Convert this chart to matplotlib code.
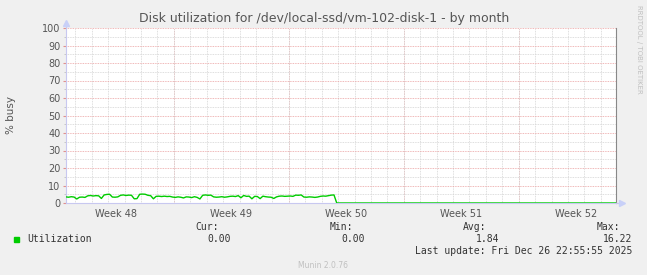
import matplotlib
matplotlib.use("Agg")
import matplotlib.pyplot as plt
import matplotlib.dates as mdates
from matplotlib.patches import Rectangle
import pandas as pd
import numpy as np

title = "Disk utilization for /dev/local-ssd/vm-102-disk-1 - by month"
ylabel = "% busy"
series_name = "Utilization"

# 4-hourly averages (one row per day), from Nov 24 10:00
util = [
    3.5, 3.3, 3.6, 3.4, 2.3, 3.3,
    3.4, 3.2, 4.1, 4.3, 4.0, 4.2,
    4.1, 2.6, 4.6, 4.9, 5.0, 3.4,
    3.3, 3.5, 4.4, 4.6, 4.3, 4.5,
    4.4, 2.4, 2.5, 5.0, 5.1, 5.0,
    4.4, 4.2, 2.4, 3.8, 3.9, 3.7,
    3.9, 3.7, 3.8, 3.4, 3.2, 3.5,
    3.3, 2.9, 3.5, 3.4, 3.1, 3.6,
    3.2, 2.3, 4.4, 4.6, 4.4, 4.5,
    3.5, 3.3, 3.4, 3.6, 3.3, 3.5,
    3.8, 3.9, 3.7, 4.2, 3.0, 4.3,
    3.8, 3.9, 2.4, 3.8, 3.7, 2.5,
    3.9, 3.6, 3.4, 3.3, 2.6, 3.5,
    3.9, 4.0, 3.8, 3.9, 4.0, 3.8,
    4.5, 4.4, 4.6, 3.4, 3.3, 3.5,
    3.4, 3.2, 3.4, 3.8, 4.0, 3.9,
    4.2, 4.5, 4.6,
]
data_start = "2025-11-24 10:00"
view_start = "2025-11-24 10:15"
view_end = "2025-12-27 21:30"

stat_labels = ["Cur:", "Min:", "Avg:", "Max:"]
stat_values = ["0.00", "0.00", "1.84", "16.22"]
last_update = "Last update: Fri Dec 26 22:55:55 2025"
footer = "Munin 2.0.76"
side_text = "RRDTOOL / TOBI OETIKER"

# after the data stops the graph sits flat at zero until the end
n_total = int((pd.Timestamp(view_end) - pd.Timestamp(data_start)) / pd.Timedelta("4h")) + 2
values = np.array(util + [0.0] * (n_total - len(util)))
times = pd.date_range(data_start, periods=n_total, freq="4h")

W, H = 647, 275
def fx(px):
    return px / W
def fy(py):
    return 1 - py / H

fig = plt.figure(figsize=(W / 100, H / 100), dpi=100)
fig.patch.set_facecolor("#f0f0f0")

ax = fig.add_axes([fx(66), fy(203), (615.5 - 66) / W, (203 - 28) / H])
ax.set_facecolor("white")
ax.set_xlim(pd.Timestamp(view_start), pd.Timestamp(view_end))
ax.set_ylim(0, 100)

# grid: minor gray every 5 / every day, major red every 10 / every week
ax.set_yticks(np.arange(0, 101, 10))
ax.set_yticks(np.arange(0, 101, 5), minor=True)
ax.xaxis.set_minor_locator(mdates.DayLocator())
ax.xaxis.set_major_locator(mdates.RRuleLocator(
    mdates.rrulewrapper(mdates.WEEKLY, byweekday=mdates.TH, byhour=12)))
ax.xaxis.set_major_formatter(mdates.DateFormatter("Week %V"))

ax.grid(which="minor", color="#d4d4d4", lw=0.6, ls=(0, (1, 1)))
ax.grid(which="major", axis="y", color="#eaa0a0", lw=0.6, ls=(0, (1, 1)))
for monday in pd.date_range(view_start, view_end, freq="W-MON", normalize=True):
    ax.axvline(monday, color="#eaa0a0", lw=0.6, ls=(0, (1, 1)), zorder=1)

ax.tick_params(axis="y", which="major", length=2, color="#e09090",
               labelsize=7, labelcolor="#555555", pad=2)
ax.tick_params(axis="y", which="minor", length=1.5, color="#c0c0c0")
ax.tick_params(axis="x", which="both", length=0, labelsize=7,
               labelcolor="#555555", pad=4)

ax.plot(times, values, color="#00cc00", lw=1, zorder=3)

ax.spines["top"].set_visible(False)
ax.spines["right"].set_color("#888888")
ax.spines["right"].set_linewidth(0.8)
ax.spines["left"].set_color("#c8c8f0")
ax.spines["bottom"].set_color("#c8c8f0")
ax.plot([1.0, 1.011], [0, 0], transform=ax.transAxes, color="#c8c8f0",
        lw=0.8, clip_on=False)
ax.plot([0, 0], [1.0, 1.025], transform=ax.transAxes, color="#c8c8f0",
        lw=0.8, clip_on=False)
ax.plot([1.011], [0], transform=ax.transAxes, marker=">", color="#c8d0f8",
        ms=4, clip_on=False)
ax.plot([0], [1.03], transform=ax.transAxes, marker="^", color="#c8d0f8",
        ms=4, clip_on=False)

fig.text(fx(324), fy(18.5), title, ha="center", va="center", fontsize=9,
         color="#555555")
fig.text(fx(11), fy(115), ylabel, rotation=90, ha="center", va="center",
         fontsize=7.5, color="#555555")
fig.text(fx(639), fy(5), side_text, rotation=270, ha="center", va="top",
         fontsize=5, color="#c0c0c0")

mono = dict(family="DejaVu Sans Mono", fontsize=7, color="#333333")
fig.patches.append(Rectangle((fx(14), fy(241.5)), 5 / W, 5 / H,
                             transform=fig.transFigure, color="#00cc00"))
fig.text(fx(27), fy(239.5), series_name, ha="left", va="center", **mono)
label_right = [219, 353, 486, 620]
value_right = [231, 365, 499, 632]
for lab, val, lx, vx in zip(stat_labels, stat_values, label_right, value_right):
    fig.text(fx(lx), fy(227.5), lab, ha="right", va="center", **mono)
    fig.text(fx(vx), fy(239.5), val, ha="right", va="center", **mono)
fig.text(fx(632), fy(251.5), last_update, ha="right", va="center", **mono)
fig.text(fx(323), fy(265), footer, ha="center", va="center", fontsize=5.5,
         color="#c0c0c0")

fig.savefig("out.png", dpi=100, facecolor=fig.get_facecolor())
